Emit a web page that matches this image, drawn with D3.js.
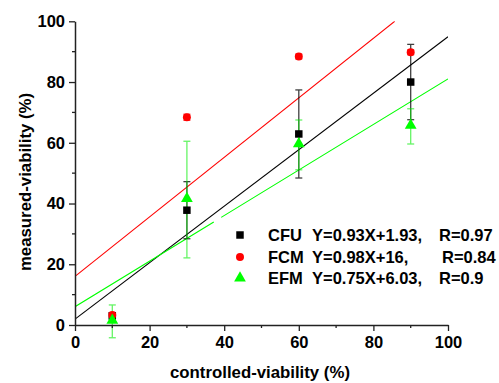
<!DOCTYPE html>
<html><head><meta charset="utf-8">
<script src="https://cdn.jsdelivr.net/npm/d3@7"></script>
<style>body{margin:0;background:#fff}svg{display:block;font-family:"Liberation Sans",Arial,sans-serif}</style>
</head><body><svg id="c" width="499" height="383"></svg>
<script>
const xValues = [10, 30, 60, 90];
const cfuY = [3, 37.8, 62.9, 80];
const cfuErr = [1, 9.4, 14.5, 12.4];
const fcmY = [3.3, 68.4, 88.4, 89.8];
const fcmErr = [0.8, 1, 0.8, 0.8];
const efmY = [1.2, 41.3, 59.3, 65.4];
const efmErr = [5.4, 19.2, 8.2, 5.8];
const fits = [
  {name: "CFU", slope: 0.93, intercept: 1.93, color: "#000000"},
  {name: "FCM", slope: 0.98, intercept: 16, color: "#ff0000"},
  {name: "EFM", slope: 0.75, intercept: 6.03, color: "#00ff00"}
];
const legendText = [
  ["CFU", "Y=0.93X+1.93,", "R=0.97"],
  ["FCM", "Y=0.98X+16,", "R=0.84"],
  ["EFM", "Y=0.75X+6.03,", "R=0.9"]
];
const greenGap = [37.2, 39.2];
const xTicks = [0, 20, 40, 60, 80, 100];
const yTicks = [0, 20, 40, 60, 80, 100];

const svg = d3.select("#c");
const x = d3.scaleLinear().domain([0, 100]).range([75, 448]);
const y = d3.scaleLinear().domain([0, 100]).range([325, 21.3]);

// fit lines (clipped to plot area)
svg.append("clipPath").attr("id", "clip").append("rect")
  .attr("x", x(0)).attr("y", y(100)).attr("width", x(100) - x(0)).attr("height", y(0) - y(100));
const gLines = svg.append("g").attr("clip-path", "url(#clip)");
fits.forEach(f => {
  let x1 = 100;
  if (f.slope * 100 + f.intercept > 100) x1 = (100 - f.intercept) / f.slope;
  const ln = gLines.append("line")
    .attr("x1", x(0)).attr("y1", y(f.intercept))
    .attr("x2", x(x1)).attr("y2", y(f.slope * x1 + f.intercept))
    .attr("stroke", f.color).attr("stroke-width", 1.1);
  if (f.name === "EFM") {
    const len = Math.hypot(x(x1) - x(0), y(f.slope * x1 + f.intercept) - y(f.intercept));
    const k = len / (x(x1) - x(0));
    const a = (x(greenGap[0]) - x(0)) * k, b = (x(greenGap[1]) - x(greenGap[0])) * k;
    ln.attr("stroke-dasharray", `${a} ${b} ${len} 0`);
  }
});

// error bars
function errBars(vals, errs, color, op) {
  const g = svg.append("g").attr("stroke", color).attr("stroke-width", 1.3).attr("opacity", op);
  xValues.forEach((xv, i) => {
    const lo = vals[i] - errs[i], hi = vals[i] + errs[i];
    g.append("line").attr("x1", x(xv)).attr("x2", x(xv)).attr("y1", y(lo)).attr("y2", y(hi));
    [lo, hi].forEach(v => g.append("line").attr("x1", x(xv) - 3.5).attr("x2", x(xv) + 3.5).attr("y1", y(v)).attr("y2", y(v)));
  });
}
errBars(cfuY, cfuErr, "#000", 0.75);
errBars(fcmY, fcmErr, "#ff0000", 0.75);
errBars(efmY, efmErr, "#00ee00", 0.6);

// markers
const sq = d3.symbol().type(d3.symbolSquare).size(56);
const ci = d3.symbol().type(d3.symbolCircle).size(50);
const tri = d3.symbol().type(d3.symbolTriangle).size(60);
xValues.forEach((xv, i) => {
  svg.append("path").attr("d", sq()).attr("transform", `translate(${x(xv)},${y(cfuY[i])})`).attr("fill", "#000");
  svg.append("path").attr("d", ci()).attr("transform", `translate(${x(xv)},${y(fcmY[i])})`).attr("fill", "#ff0000");
  svg.append("path").attr("d", tri()).attr("transform", `translate(${x(xv)},${y(efmY[i]) - 1})`).attr("fill", "#00ff00");
});

// axes
const xAxis = svg.append("g").attr("transform", `translate(0,${y(0)})`)
  .call(d3.axisBottom(x).tickValues(xTicks).tickSize(6).tickSizeOuter(0).tickPadding(5));
const yAxis = svg.append("g").attr("transform", `translate(${x(0)},0)`)
  .call(d3.axisLeft(y).tickValues(yTicks).tickSize(6).tickSizeOuter(0).tickPadding(4));
[xAxis, yAxis].forEach(a => {
  a.select(".domain").attr("stroke", "#222").attr("stroke-width", 1.5);
  a.selectAll(".tick line").attr("stroke", "#222").attr("stroke-width", 1.3);
  a.selectAll("text").attr("font-size", 16.5).attr("font-weight", "bold").attr("fill", "#000")
    .attr("font-family", "'Liberation Sans',Arial,sans-serif");
});
// minor ticks
const minor = d3.range(10, 100, 20);
svg.append("g").selectAll("line").data(minor).join("line")
  .attr("x1", d => x(d)).attr("x2", d => x(d)).attr("y1", y(0)).attr("y2", y(0) + 3)
  .attr("stroke", "#222").attr("stroke-width", 1.3);
svg.append("g").selectAll("line").data(minor).join("line")
  .attr("y1", d => y(d)).attr("y2", d => y(d)).attr("x1", x(0)).attr("x2", x(0) - 3)
  .attr("stroke", "#222").attr("stroke-width", 1.3);

// axis titles
svg.append("text").attr("x", 260).attr("y", 378).attr("text-anchor", "middle")
  .attr("font-size", 16.8).attr("font-weight", "bold").text("controlled-viability (%)");
svg.append("text").attr("transform", "translate(31,182) rotate(-90)").attr("text-anchor", "middle")
  .attr("font-size", 16.8).attr("font-weight", "bold").text("measured-viability (%)");

// legend
const legSyms = [sq, ci, tri];
const legCols = ["#000", "#ff0000", "#00ff00"];
const legY = [235, 257, 278];
const rX = [439, 442, 439];
legendText.forEach((t, i) => {
  svg.append("path").attr("d", legSyms[i]()).attr("transform", `translate(240,${legY[i]})`).attr("fill", legCols[i]);
  const g = svg.append("g").attr("font-size", 16.5).attr("font-weight", "bold");
  g.append("text").attr("x", 268).attr("y", legY[i] + 6).text(t[0]);
  g.append("text").attr("x", 312).attr("y", legY[i] + 6).text(t[1]);
  g.append("text").attr("x", rX[i]).attr("y", legY[i] + 6).text(t[2]);
});
</script></body></html>
